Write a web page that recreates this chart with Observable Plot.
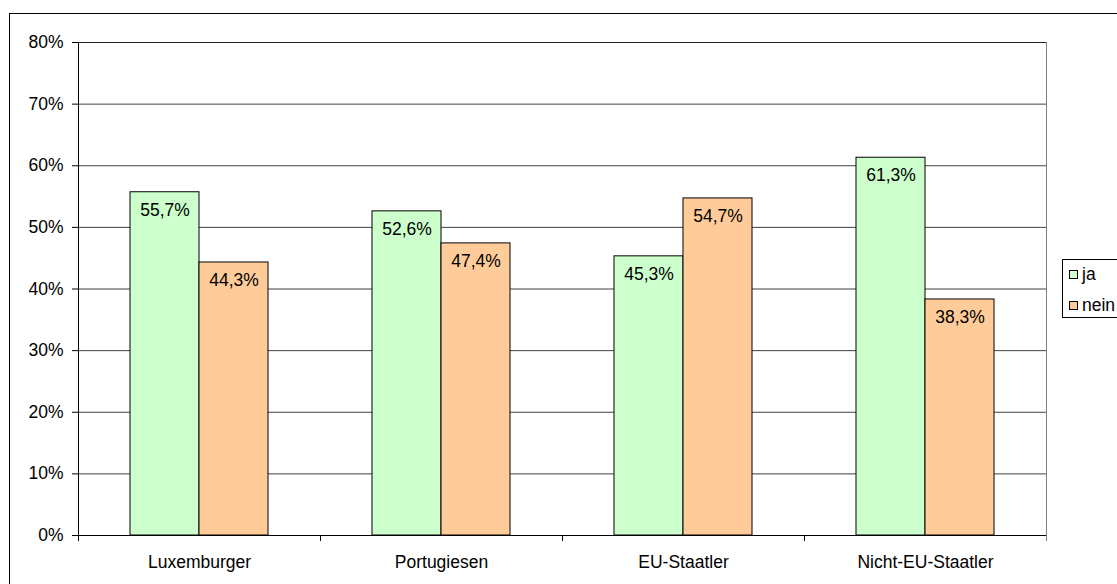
<!DOCTYPE html>
<html>
<head>
<meta charset="utf-8">
<script src="https://cdn.jsdelivr.net/npm/d3@7"></script>
<script src="https://cdn.jsdelivr.net/npm/@observablehq/plot@0.6"></script>
<style>
  html, body { margin: 0; padding: 0; background: #fff; overflow: hidden; }
  body { width: 1117px; height: 584px; position: relative; font-family: "Liberation Sans", Arial, sans-serif; }
  #chart { position: absolute; left: 0; top: 0; }
  #border { position: absolute; left: 9px; top: 13px; width: 1200px; height: 700px; border: 1px solid #000; pointer-events: none; }
  #legend { position: absolute; left: 1062px; top: 259px; width: 90px; height: 57px; border: 1px solid #000; background: #fff; font-size: 17.5px; color: #000; }
  .item { position: absolute; left: 6px; display: flex; align-items: center; }
  .sw { width: 7px; height: 7px; border: 1px solid #000; margin-right: 4px; }
</style>
</head>
<body>
<div id="border"></div>
<div id="chart"></div>
<div id="legend"></div>
<script>
const categories = ["Luxemburger", "Portugiesen", "EU-Staatler", "Nicht-EU-Staatler"];
const seriesNames = ["ja", "nein"];
const jaValues = [55.7, 52.6, 45.3, 61.3];
const neinValues = [44.3, 47.4, 54.7, 38.3];
const yTicks = [0, 10, 20, 30, 40, 50, 60, 70, 80];
const seriesColors = ["#CCFFCC", "#FFCC99"];

const data = [];
categories.forEach((c, i) => {
  data.push({cat: c, series: "ja", value: jaValues[i]});
  data.push({cat: c, series: "nein", value: neinValues[i]});
});
const fmt = v => v.toFixed(1).replace(".", ",") + "%";

const chart = Plot.plot({
  width: 1117,
  height: 584,
  marginLeft: 76,
  marginRight: 70,
  marginTop: 42,
  marginBottom: 49,
  style: {fontFamily: "'Liberation Sans', Arial, sans-serif", fontSize: "17.5px", color: "#000", background: "transparent"},
  fx: {domain: categories, paddingInner: 0, paddingOuter: 0, label: null},
  x: {domain: seriesNames, paddingInner: 0, paddingOuter: 0.7465, axis: null},
  y: {domain: [0, 80], label: null},
  color: {domain: seriesNames, range: seriesColors},
  marks: [
    Plot.frame({facet: "super", stroke: "#808080"}),
    Plot.ruleY(yTicks, {y: d => d, stroke: "#000", strokeOpacity: 0.75}),
    Plot.barY(data, {fx: "cat", x: "series", y: "value", fill: "series", stroke: "#000", strokeWidth: 1}),
    Plot.text(data, {fx: "cat", x: "series", y: "value", text: d => fmt(d.value), dy: 18, fill: "#000", fontSize: 17.5}),
    Plot.ruleY([0], {stroke: "#000"}),
    Plot.frame({facet: "super", anchor: "left", stroke: "#000"}),
    Plot.axisY({ticks: yTicks, tickFormat: d => d + "%", tickSize: 6, tickPadding: 9, label: null, stroke: "#000"}),
    Plot.axisFx({anchor: "bottom", tickSize: 0, tickPadding: 20, label: null})
  ]
});
document.getElementById("chart").appendChild(chart);

// category boundary ticks below the baseline, from the library's scales
const fxS = chart.scale("fx");
const yS = chart.scale("y");
const y0 = yS.apply(0);
const edges = categories.map(c => fxS.apply(c));
edges.push(fxS.apply(categories[categories.length - 1]) + fxS.step);
const svg = d3.select(chart.tagName.toLowerCase() === "svg" ? chart : chart.querySelector("svg"));
svg.append("g").selectAll("line").data(edges).join("line")
  .attr("x1", d => Math.round(d) + 0.5).attr("x2", d => Math.round(d) + 0.5)
  .attr("y1", y0).attr("y2", y0 + 6)
  .attr("stroke", (d, i) => i === edges.length - 1 ? "#808080" : "#000");

// legend
const legend = document.getElementById("legend");
seriesNames.forEach((s, i) => {
  const item = document.createElement("div");
  item.className = "item";
  item.style.top = (i === 0 ? 4 : 35) + "px";
  const sw = document.createElement("div");
  sw.className = "sw";
  sw.style.background = seriesColors[i];
  const t = document.createElement("span");
  t.textContent = s;
  item.appendChild(sw);
  item.appendChild(t);
  legend.appendChild(item);
});
</script>
</body>
</html>
